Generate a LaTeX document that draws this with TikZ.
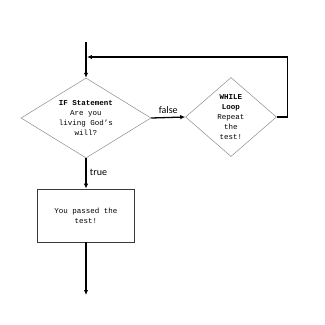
\documentclass[tikz,border=0pt]{standalone}
\usepackage{fontspec}
\setmonofont{Liberation Mono}
\newfontfamily\labelfont{Carlito}
\usetikzlibrary{arrows.meta,shapes.geometric}
\definecolor{diaborder}{HTML}{8C8C8C}
\definecolor{boxborder}{HTML}{3A3A3A}
\tikzset{
  decision/.style={
    diamond, draw=diaborder, line width=0.5pt, inner sep=0pt,
    align=center, font=\ttfamily\fontsize{7.5}{10}\selectfont,
  },
  process/.style={
    rectangle, draw=boxborder, line width=0.8pt,
    align=center, font=\ttfamily\fontsize{7.5}{10}\selectfont,
  },
  flow/.style={-{Latex[length=5pt,width=4.5pt]}, line width=1.3pt},
  lbl/.style={font=\labelfont\fontsize{10}{10}\selectfont},
}
\begin{document}
\begin{tikzpicture}[x=1pt, y=-1pt]
  \useasboundingbox (0,0) rectangle (325,325);

  \node[decision, shape aspect=1.62, minimum width=130pt, minimum height=80pt]
    (ifst) at (86,118)
    {\textbf{IF Statement}\\Are you\\living God’s\\will?};

  \node[decision, shape aspect=1.15, minimum width=91pt, minimum height=79pt]
    (whl) at (231,117)
    {\textbf{WHILE}\\\textbf{Loop}\\Repeat\\the\\test!};

  \node[process, minimum width=97pt, minimum height=53pt] (pass) at (86,215.5)
    {You passed the\\test!};

  \coordinate (start) at (86,42);
  \coordinate (loopin) at (87,57);
  \coordinate (finish) at (86,295);

  \draw[flow] (start) -- (ifst.north);
  \draw[flow] (ifst.east) -- node[lbl, above] {false} (whl.west);
  \draw[flow] (whl.east) -- ++(11,0) |- (loopin);
  \draw[flow] (ifst.south) -- node[lbl, right, pos=0.45] {true} (pass.north);
  \draw[flow] (pass.south) -- (finish);

\end{tikzpicture}
\end{document}
